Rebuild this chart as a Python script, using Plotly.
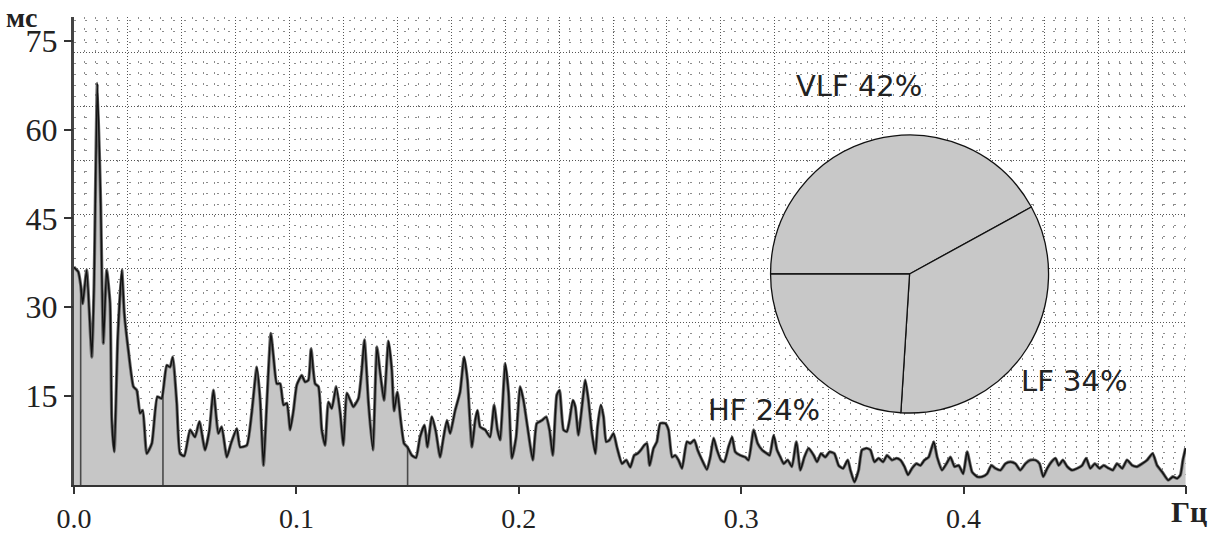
import numpy as np
import plotly.graph_objects as go

# ---- spectrum data (frequency, Hz  /  amplitude, ms) ----
FREQ_HZ = [
    0.0000, 0.0004, 0.0019, 0.0031, 0.0039, 0.0057, 0.0080, 0.0090, 0.0105, 0.0120,
    0.0132, 0.0147, 0.0162, 0.0170, 0.0181, 0.0197, 0.0215, 0.0226, 0.0244, 0.0267,
    0.0282, 0.0297, 0.0309, 0.0327, 0.0350, 0.0375, 0.0394, 0.0417, 0.0432, 0.0444,
    0.0462, 0.0477, 0.0496, 0.0522, 0.0544, 0.0564, 0.0589, 0.0609, 0.0627, 0.0649,
    0.0664, 0.0687, 0.0706, 0.0732, 0.0747, 0.0777, 0.0799, 0.0822, 0.0837, 0.0852,
    0.0867, 0.0885, 0.0897, 0.0912, 0.0927, 0.0942, 0.0957, 0.0972, 0.0987, 0.1002,
    0.1024, 0.1039, 0.1054, 0.1066, 0.1084, 0.1099, 0.1114, 0.1129, 0.1144, 0.1159,
    0.1179, 0.1197, 0.1211, 0.1227, 0.1242, 0.1256, 0.1279, 0.1294, 0.1306, 0.1324,
    0.1344, 0.1362, 0.1377, 0.1394, 0.1414, 0.1429, 0.1439, 0.1454, 0.1469, 0.1484,
    0.1499, 0.1519, 0.1538, 0.1556, 0.1576, 0.1589, 0.1609, 0.1627, 0.1646, 0.1661,
    0.1677, 0.1691, 0.1714, 0.1736, 0.1754, 0.1769, 0.1789, 0.1804, 0.1814, 0.1826,
    0.1849, 0.1871, 0.1889, 0.1904, 0.1916, 0.1939, 0.1954, 0.1969, 0.1988, 0.2006,
    0.2021, 0.2039, 0.2063, 0.2081, 0.2104, 0.2123, 0.2138, 0.2153, 0.2171, 0.2183,
    0.2201, 0.2216, 0.2228, 0.2243, 0.2254, 0.2268, 0.2284, 0.2299, 0.2313, 0.2329,
    0.2344, 0.2354, 0.2369, 0.2381, 0.2393, 0.2408, 0.2426, 0.2441, 0.2464, 0.2483,
    0.2501, 0.2519, 0.2534, 0.2549, 0.2564, 0.2576, 0.2588, 0.2606, 0.2621, 0.2636,
    0.2658, 0.2673, 0.2689, 0.2703, 0.2718, 0.2734, 0.2756, 0.2771, 0.2789, 0.2804,
    0.2824, 0.2846, 0.2861, 0.2876, 0.2891, 0.2909, 0.2924, 0.2943, 0.2959, 0.2973,
    0.2996, 0.3018, 0.3033, 0.3056, 0.3074, 0.3094, 0.3116, 0.3128, 0.3146, 0.3161,
    0.3176, 0.3191, 0.3209, 0.3228, 0.3248, 0.3266, 0.3284, 0.3303, 0.3326, 0.3341,
    0.3359, 0.3378, 0.3398, 0.3419, 0.3438, 0.3458, 0.3479, 0.3491, 0.3509, 0.3528,
    0.3543, 0.3563, 0.3581, 0.3599, 0.3618, 0.3638, 0.3656, 0.3678, 0.3698, 0.3716,
    0.3734, 0.3750, 0.3768, 0.3788, 0.3806, 0.3824, 0.3843, 0.3866, 0.3881, 0.3903,
    0.3923, 0.3941, 0.3959, 0.3978, 0.3998, 0.4016, 0.4038, 0.4061, 0.4083, 0.4106,
    0.4125, 0.4143, 0.4166, 0.4188, 0.4211, 0.4233, 0.4255, 0.4278, 0.4300, 0.4323,
    0.4341, 0.4358, 0.4376, 0.4395, 0.4413, 0.4428, 0.4446, 0.4466, 0.4488, 0.4511,
    0.4533, 0.4551, 0.4570, 0.4590, 0.4611, 0.4630, 0.4653, 0.4671, 0.4690, 0.4713,
    0.4735, 0.4758, 0.4780, 0.4803, 0.4825, 0.4850, 0.4870, 0.4893, 0.4920, 0.4941,
    0.4960, 0.4975, 0.4986, 0.4998,
]
AMP_MS = [
    36.8, 36.6, 36.0, 33.5, 30.6, 36.3, 21.6, 33.5, 67.8, 47.5,
    23.9, 36.3, 30.7, 10.9, 5.6, 25.0, 36.3, 29.0, 22.8, 16.6,
    16.0, 12.1, 12.6, 5.3, 7.0, 14.9, 14.6, 20.2, 19.9, 21.6,
    13.8, 5.3, 4.9, 9.3, 8.1, 10.7, 5.9, 9.3, 16.0, 8.7,
    9.8, 4.7, 7.0, 9.5, 6.4, 6.7, 12.1, 19.9, 14.3, 3.3,
    13.8, 25.6, 21.6, 17.1, 17.1, 13.5, 13.8, 9.3, 12.6, 16.9,
    18.5, 17.4, 17.7, 23.0, 17.1, 16.6, 9.3, 6.7, 14.0, 12.9,
    16.6, 12.1, 6.7, 15.5, 14.3, 13.2, 14.6, 19.4, 24.5, 13.8,
    5.9, 23.3, 18.8, 14.3, 24.3, 19.4, 12.5, 15.7, 10.9, 7.0,
    6.4, 5.0, 4.6, 8.1, 10.1, 6.4, 11.5, 9.0, 4.7, 7.9,
    10.9, 8.7, 12.6, 15.7, 21.6, 17.7, 6.4, 10.9, 12.6, 9.8,
    9.3, 8.1, 13.5, 9.3, 7.6, 20.5, 15.5, 4.5, 8.1, 16.6,
    14.3, 9.8, 4.2, 10.4, 10.9, 11.5, 9.3, 5.0, 15.2, 16.0,
    9.3, 9.0, 10.9, 14.3, 13.2, 8.4, 13.2, 17.7, 14.3, 8.7,
    5.3, 9.8, 13.5, 11.5, 7.3, 7.6, 8.7, 6.4, 3.6, 4.2,
    3.0, 5.0, 5.3, 5.9, 6.7, 7.0, 3.3, 6.2, 7.3, 10.4,
    10.4, 9.3, 4.7, 5.0, 4.2, 2.8, 7.3, 7.0, 7.6, 5.9,
    4.2, 2.6, 4.7, 7.9, 5.9, 4.2, 3.9, 6.4, 8.1, 5.6,
    5.0, 4.7, 4.2, 9.3, 7.0, 5.9, 5.3, 5.0, 8.4, 5.9,
    4.7, 3.6, 4.2, 3.1, 7.3, 2.5, 4.7, 6.2, 5.0, 3.9,
    5.3, 4.7, 5.6, 5.3, 3.3, 2.8, 4.2, 2.5, 0.5, 2.5,
    5.9, 6.2, 5.9, 3.9, 4.5, 3.9, 5.0, 4.2, 4.5, 4.2,
    3.1, 1.7, 2.8, 3.6, 3.3, 4.2, 4.7, 7.3, 4.7, 2.5,
    3.6, 4.7, 3.1, 3.3, 1.9, 5.6, 2.2, 1.4, 1.4, 1.9,
    3.3, 2.8, 2.5, 3.6, 3.9, 3.6, 2.5, 3.6, 4.2, 4.2,
    3.6, 1.4, 2.8, 3.9, 4.5, 3.3, 4.2, 3.1, 2.5, 2.8,
    3.3, 4.5, 2.8, 3.6, 2.8, 3.3, 2.8, 2.5, 3.6, 2.8,
    4.2, 3.3, 3.1, 3.6, 4.2, 5.3, 3.3, 2.2, 0.8, 1.4,
    1.1, 1.7, 4.2, 6.2,
]

# band boundaries (Hz)
BAND_EDGES = [0.003, 0.04, 0.15]

# pie: spectral power shares
BANDS = ["VLF", "LF", "HF"]
SHARES = [42, 34, 24]

X_TICKS = [0.0, 0.1, 0.2, 0.3, 0.4, 0.5]
X_TICK_TEXT = ["0.0", "0.1", "0.2", "0.3", "0.4", ""]
Y_TICKS = [15, 30, 45, 60, 75]

X_RANGE = [0, 0.5]
Y_RANGE = [0, 79]
X_GRID = 0.024237
Y_GRID = 9.118

serif = "Liberation Serif"
sans = "DejaVu Sans"

fig = go.Figure()

fig.add_trace(go.Scatter(
    x=FREQ_HZ, y=AMP_MS, mode="lines", fill="tozeroy",
    fillcolor="#c6c6c6", line=dict(color="#6a6a6a", width=3.2, shape="spline", smoothing=0.5),
    hoverinfo="skip", showlegend=False,
))
edge_vals = np.interp(BAND_EDGES, FREQ_HZ, AMP_MS)
ex, ey = [], []
for f, v in zip(BAND_EDGES, edge_vals):
    ex += [f, f, None]
    ey += [0, v, None]
fig.add_trace(go.Scatter(
    x=ex, y=ey, mode="lines", line=dict(color="#4a4a4a", width=1.6),
    hoverinfo="skip", showlegend=False,
))
fig.add_trace(go.Scatter(
    x=FREQ_HZ, y=AMP_MS, mode="lines",
    line=dict(color="#111111", width=1.5, shape="spline", smoothing=0.5),
    hoverinfo="skip", showlegend=False,
))
fig.add_trace(go.Scatter(
    x=[0], y=[0], xaxis="x2", yaxis="y2", mode="markers",
    marker=dict(opacity=0), hoverinfo="skip", showlegend=False,
))

fig.add_trace(go.Pie(
    values=SHARES, labels=BANDS, sort=False, direction="clockwise",
    rotation=-90, textinfo="none", hoverinfo="skip", showlegend=False,
    marker=dict(colors=["#c8c8c8"] * len(SHARES),
                line=dict(color="#111111", width=1.3)),
    domain=dict(x=[0.6264, 0.8764], y=[0.1538, 0.7479]),
))

grid_major = dict(showgrid=True, gridcolor="#555555", gridwidth=1, griddash="1px,2px")
fig.update_layout(
    width=1221, height=533,
    margin=dict(l=74, r=35, t=17, b=48, autoexpand=False),
    paper_bgcolor="white", plot_bgcolor="white",
    showlegend=False,
    xaxis=dict(range=X_RANGE, tick0=0, dtick=X_GRID, showticklabels=False,
               automargin=False,
               ticks="", zeroline=False, showline=True, linecolor="#333333",
               linewidth=2, **grid_major,
               minor=dict(dtick=X_GRID / 5, showgrid=True, gridcolor="#8c8c8c",
                          gridwidth=1, griddash="2px,9px")),
    yaxis=dict(range=Y_RANGE, tick0=0, dtick=Y_GRID, showticklabels=False,
               automargin=False,
               ticks="", zeroline=False, showline=True, linecolor="#444444",
               linewidth=2.5, **grid_major,
               minor=dict(dtick=Y_GRID / 5, showgrid=True, gridcolor="#8c8c8c",
                          gridwidth=1, griddash="2px,9px")),
    xaxis2=dict(overlaying="x", anchor="y2", side="bottom", range=X_RANGE,
                automargin=False,
                tickvals=X_TICKS, ticktext=X_TICK_TEXT, ticks="outside",
                ticklen=8, tickwidth=1.5, tickcolor="#333333",
                showgrid=False, zeroline=False, showline=False,
                tickfont=dict(family=serif, size=28, color="#222222")),
    yaxis2=dict(overlaying="y", anchor="x2", side="left", range=Y_RANGE,
                automargin=False,
                tickvals=Y_TICKS, ticks="outside", ticklen=9, tickwidth=1.5,
                tickcolor="#333333", showgrid=False, zeroline=False,
                showline=False,
                tickfont=dict(family=serif, size=32, color="#222222")),
)

label_pos = {"VLF": (0.7059, 0.8526), "LF": (0.8993, 0.2222), "HF": (0.6205, 0.1613)}
for name, share in zip(BANDS, SHARES):
    px_, py_ = label_pos[name]
    fig.add_annotation(x=px_, y=py_, xref="paper", yref="paper",
                       text=f"{name} {share}%", showarrow=False,
                       xanchor="center", yanchor="middle",
                       font=dict(family=sans, size=29, color="#222222"))

fig.add_annotation(x=-0.047, y=1.0363, xref="paper", yref="paper", text="<b>мс</b>",
                   showarrow=False, xanchor="center", yanchor="top",
                   font=dict(family=serif, size=28, color="#222222"))
fig.add_annotation(x=1.0027, y=-0.056, xref="paper", yref="paper", text="<b>Гц</b>",
                   showarrow=False, xanchor="center", yanchor="middle",
                   font=dict(family=serif, size=30, color="#222222"))

fig.write_html(
    "out.html",
    config={"displayModeBar": False},
    post_script="document.body.style.margin='0';document.body.style.overflow='hidden';",
)
